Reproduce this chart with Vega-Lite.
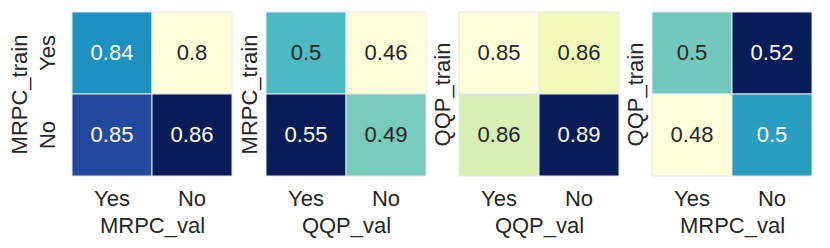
{
  "$schema": "https://vega.github.io/schema/vega-lite/v6.json",
  "padding": {"left": 8, "top": 11, "right": 5, "bottom": 2},
  "background": "white",
  "data": {"values": [
    {"panel": 1, "train": "Yes", "val": "Yes", "v": 0.8375},
    {"panel": 1, "train": "Yes", "val": "No", "v": 0.800},
    {"panel": 1, "train": "No", "val": "Yes", "v": 0.849},
    {"panel": 1, "train": "No", "val": "No", "v": 0.860},
    {"panel": 2, "train": "Yes", "val": "Yes", "v": 0.503},
    {"panel": 2, "train": "Yes", "val": "No", "v": 0.4551},
    {"panel": 2, "train": "No", "val": "Yes", "v": 0.5549},
    {"panel": 2, "train": "No", "val": "No", "v": 0.494},
    {"panel": 3, "train": "Yes", "val": "Yes", "v": 0.853},
    {"panel": 3, "train": "Yes", "val": "No", "v": 0.8565},
    {"panel": 3, "train": "No", "val": "Yes", "v": 0.860},
    {"panel": 3, "train": "No", "val": "No", "v": 0.888},
    {"panel": 4, "train": "Yes", "val": "Yes", "v": 0.496},
    {"panel": 4, "train": "Yes", "val": "No", "v": 0.520},
    {"panel": 4, "train": "No", "val": "Yes", "v": 0.480},
    {"panel": 4, "train": "No", "val": "No", "v": 0.5032}
  ]},
  "spacing": 4,
  "hconcat": [
    {
      "width": 160, "height": 164,
      "transform": [{"filter": "datum.panel == 1"}],
      "encoding": {
        "x": {"field": "val", "type": "nominal", "sort": ["Yes", "No"], "title": "MRPC_val"},
        "y": {"field": "train", "type": "nominal", "sort": ["Yes", "No"], "title": "MRPC_train"}
      },
      "layer": [
        {"mark": {"type": "rect", "stroke": "#e6e6ef", "strokeWidth": 1},
         "encoding": {"color": {"field": "v", "type": "quantitative", "scale": {"range": ["#ffffd9","#edf8b1","#c7e9b4","#7fcdbb","#41b6c4","#1d91c0","#225ea8","#253494","#081d58"], "interpolate": "rgb", "zero": false, "nice": false}, "legend": null}}},
        {"mark": {"type": "text", "fontSize": 22, "font": "Liberation Sans"},
         "encoding": {"text": {"field": "v", "type": "quantitative", "format": ".2~g"},
           "color": {"condition": {"test": "datum.v > 0.82", "value": "white"}, "value": "#262626"}}}
      ]
    },
    {
      "width": 160, "height": 164,
      "transform": [{"filter": "datum.panel == 2"}],
      "encoding": {
        "x": {"field": "val", "type": "nominal", "sort": ["Yes", "No"], "title": "QQP_val"},
        "y": {"field": "train", "type": "nominal", "sort": ["Yes", "No"], "title": "MRPC_train", "axis": {"labels": false}}
      },
      "layer": [
        {"mark": {"type": "rect", "stroke": "#e6e6ef", "strokeWidth": 1},
         "encoding": {"color": {"field": "v", "type": "quantitative", "scale": {"range": ["#ffffd9","#edf8b1","#c7e9b4","#7fcdbb","#41b6c4","#1d91c0","#225ea8","#253494","#081d58"], "interpolate": "rgb", "zero": false, "nice": false}, "legend": null}}},
        {"mark": {"type": "text", "fontSize": 22, "font": "Liberation Sans"},
         "encoding": {"text": {"field": "v", "type": "quantitative", "format": ".2~g"},
           "color": {"condition": {"test": "datum.v > 0.52", "value": "white"}, "value": "#262626"}}}
      ]
    },
    {
      "width": 160, "height": 164,
      "transform": [{"filter": "datum.panel == 3"}],
      "encoding": {
        "x": {"field": "val", "type": "nominal", "sort": ["Yes", "No"], "title": "QQP_val"},
        "y": {"field": "train", "type": "nominal", "sort": ["Yes", "No"], "title": "QQP_train", "axis": {"labels": false}}
      },
      "layer": [
        {"mark": {"type": "rect", "stroke": "#e6e6ef", "strokeWidth": 1},
         "encoding": {"color": {"field": "v", "type": "quantitative", "scale": {"range": ["#ffffd9","#edf8b1","#c7e9b4","#7fcdbb","#41b6c4","#1d91c0","#225ea8","#253494","#081d58"], "interpolate": "rgb", "zero": false, "nice": false}, "legend": null}}},
        {"mark": {"type": "text", "fontSize": 22, "font": "Liberation Sans"},
         "encoding": {"text": {"field": "v", "type": "quantitative", "format": ".2~g"},
           "color": {"condition": {"test": "datum.v > 0.87", "value": "white"}, "value": "#262626"}}}
      ]
    },
    {
      "width": 160, "height": 164,
      "transform": [{"filter": "datum.panel == 4"}],
      "encoding": {
        "x": {"field": "val", "type": "nominal", "sort": ["Yes", "No"], "title": "MRPC_val"},
        "y": {"field": "train", "type": "nominal", "sort": ["Yes", "No"], "title": "QQP_train", "axis": {"labels": false}}
      },
      "layer": [
        {"mark": {"type": "rect", "stroke": "#e6e6ef", "strokeWidth": 1},
         "encoding": {"color": {"field": "v", "type": "quantitative", "scale": {"range": ["#ffffd9","#edf8b1","#c7e9b4","#7fcdbb","#41b6c4","#1d91c0","#225ea8","#253494","#081d58"], "interpolate": "rgb", "zero": false, "nice": false}, "legend": null}}},
        {"mark": {"type": "text", "fontSize": 22, "font": "Liberation Sans"},
         "encoding": {"text": {"field": "v", "type": "quantitative", "format": ".2~g"},
           "color": {"condition": {"test": "datum.v > 0.5", "value": "white"}, "value": "#262626"}}}
      ]
    }
  ],
  "resolve": {"scale": {"color": "independent"}},
  "config": {
    "view": {"stroke": null},
    "font": "Liberation Sans",
    "axis": {"domain": false, "ticks": false, "grid": false, "labelFontSize": 22, "titleFontSize": 22,
      "labelColor": "#262626", "titleColor": "#262626", "titleFontWeight": "normal",
      "labelFont": "Liberation Sans", "titleFont": "Liberation Sans"},
    "axisX": {"labelAngle": 0, "labelPadding": 12, "titlePadding": 6},
    "axisY": {"labelAngle": -90, "labelPadding": 13, "titlePadding": 5}
  }
}
